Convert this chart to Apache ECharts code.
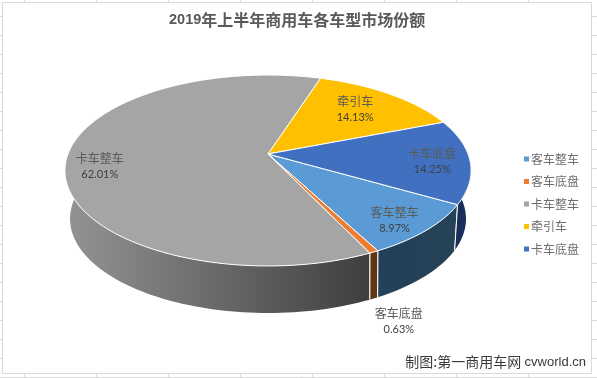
<!DOCTYPE html>
<html>
<head>
<meta charset="utf-8">
<style>
  html, body { margin: 0; padding: 0; background: #fff; }
  #chart { width: 597px; height: 378px; }
</style>
<script src="https://cdn.jsdelivr.net/npm/echarts@6/dist/echarts.min.js"></script>
</head>
<body>
<div id="chart"></div>
<script>
const titleYear = "2019";
const titleText = "年上半年商用车各车型市场份额";
const creditCn = "制图:第一商用车网";
const creditEn = "cvworld.cn";
const categories = ["客车整车", "客车底盘", "卡车整车", "牵引车", "卡车底盘"];
const shares = [8.97, 0.63, 62.01, 14.13, 14.25];

const topColors = ["#5b9bd5", "#ed7d31", "#a5a5a5", "#ffc000", "#4170c0"];
// side wall colours, left to right. yellow never shows its wall
const wallColors = [
  ["#23405a", "#264256"],
  ["#633814", "#5e3413"],
  ["#949494", "#3e3e3e"],
  null,
  ["#182c55", "#1c3160"],
];
// label spot on the disc: radius fraction, then a pixel nudge
const labelSpots = [
  [0.82, 0, 5],
  [1, 25, 23],
  [0.83, -1, 7],
  [0.7, -1, -1],
  [0.82, -1, 2],
];

const firstAngle = 120; // degrees clockwise from 12 o'clock
const visibleWall = [80, 280]; // the part of the rim facing the viewer

const total = shares.reduce((a, b) => a + b, 0);
let running = firstAngle;
const sliceRanges = shares.map((v) => {
  const from = running;
  running += (v / total) * 360;
  return [from, running];
});

// excel's 3d pie is a perspective view, the apex is not the ellipse centre
function topPoint(deg, r) {
  const t = (deg * Math.PI) / 180;
  const u = Math.sin(t) * r;
  const v = -Math.cos(t) * r;
  const w = 1 - 0.1728 * v;
  return [268 + (200 * u) / w, (66 * v + 154) / w];
}
function bottomPoint(deg) {
  const t = (deg * Math.PI) / 180;
  const u = Math.sin(t);
  const v = -Math.cos(t);
  const w = 1 - 0.2 * v;
  return [268 + (194 * u) / w, (50.4 * v + 200) / w];
}
function rim(from, to, fn) {
  const pts = [];
  const n = Math.max(2, Math.ceil((to - from) / 1.5));
  for (let i = 0; i <= n; i++) pts.push(fn(from + ((to - from) * i) / n));
  return pts;
}

function seam(deg) {
  const a = topPoint(deg, 1);
  const b = bottomPoint(deg);
  return {
    type: "line",
    shape: { x1: a[0], y1: a[1], x2: b[0], y2: b[1] },
    style: { stroke: "#fff", lineWidth: 1 },
  };
}

function wallParts(index) {
  if (!wallColors[index]) return [];
  const parts = [];
  // slices can run past 360, so test the range shifted too
  [0, 360].forEach((shift) => {
    const from = Math.max(sliceRanges[index][0], visibleWall[0] + shift);
    const to = Math.min(sliceRanges[index][1], visibleWall[1] + shift);
    if (to <= from) return;
    const a = rim(from, to, (d) => topPoint(d, 1));
    const b = rim(from, to, bottomPoint).reverse();
    const xs = a.concat(b).map((p) => p[0]);
    parts.push({
      type: "polygon",
      shape: { points: a.concat(b) },
      style: {
        fill: {
          type: "linear",
          global: true,
          x: Math.min.apply(null, xs),
          y: 0,
          x2: Math.max.apply(null, xs),
          y2: 0,
          colorStops: [
            { offset: 0, color: wallColors[index][0] },
            { offset: 1, color: wallColors[index][1] },
          ],
        },
      },
    });
    // white seam only where the slice edge is on the visible wall
    if (from === sliceRanges[index][0]) parts.push(seam(from));
    if (to === sliceRanges[index][1]) parts.push(seam(to));
  });
  return parts;
}

function renderSlice(index) {
  return function () {
    const range = sliceRanges[index];
    const top = [topPoint(0, 0)].concat(rim(range[0], range[1], (d) => topPoint(d, 1)));
    return {
      type: "group",
      children: wallParts(index).concat([
        {
          type: "polygon",
          shape: { points: top },
          style: { fill: topColors[index], stroke: "#fff", lineWidth: 1 },
        },
      ]),
    };
  };
}

function renderLabels(params, api) {
  const index = params.dataIndex;
  const range = sliceRanges[index];
  const spot = labelSpots[index];
  const at = topPoint((range[0] + range[1]) / 2, spot[0]);
  // the tiny slice label sits outside, below the wall
  const y = index === 1 ? bottomPoint((range[0] + range[1]) / 2)[1] + spot[2] : at[1] + spot[2];
  return {
    type: "text",
    x: at[0] + spot[1],
    y: y,
    style: {
      text: "{n|" + categories[index] + "}\n{p|" + api.value(0).toFixed(2) + "%}",
      align: "center",
      verticalAlign: "middle",
      rich: {
        n: { fontFamily: "Noto Sans CJK SC", fontSize: 12, lineHeight: 16, fill: "#5a5a5a", align: "center" },
        p: { fontFamily: "Lato", fontSize: 11, lineHeight: 16, fill: "#404040", align: "center" },
      },
    },
  };
}

// worksheet gridlines peeking out around the chart box
const sheetLines = [];
function sheetLine(x1, y1, x2, y2) {
  sheetLines.push({
    type: "line",
    silent: true,
    shape: { x1, y1, x2, y2 },
    style: { stroke: "#d9d9d9", lineWidth: 1 },
  });
}
for (let x = 24.5; x < 597; x += 72) {
  sheetLine(x, 0, x, 3);
  sheetLine(x, 374, x, 378);
}
for (let y = 16.5; y < 374; y += 19) {
  sheetLine(0, y, 3, y);
  sheetLine(592, y, 597, y);
}
sheetLine(0, 377.5, 597, 377.5);

const chart = echarts.init(document.getElementById("chart"));
chart.setOption({
  animation: false,
  backgroundColor: "#fff",
  title: {
    text: "{y|" + titleYear + "}{c|" + titleText + "}",
    left: 169,
    top: 12,
    textStyle: {
      rich: {
        y: { fontFamily: "Liberation Sans", fontSize: 14.5, fontWeight: "bold", color: "#595959" },
        c: { fontFamily: "Noto Sans CJK SC", fontSize: 16, fontWeight: "bold", color: "#595959" },
      },
    },
    padding: 0,
  },
  legend: {
    orient: "vertical",
    left: 519,
    top: 148,
    data: categories,
    icon: "rect",
    itemWidth: 5,
    itemHeight: 5,
    itemGap: 10.5,
    textStyle: { fontFamily: "Noto Sans CJK SC", fontSize: 12, color: "#6e6e6e", padding: [0, 0, 0, -3] },
  },
  graphic: sheetLines.concat([
    {
      type: "rect",
      silent: true,
      shape: { x: 2.5, y: 2.5, width: 589, height: 371 },
      style: { fill: "none", stroke: "#d9d9d9", lineWidth: 1 },
    },
    {
      type: "text",
      silent: true,
      x: 586,
      y: 362,
      style: {
        text: "{a|" + creditCn + "} {b|" + creditEn + "}",
        align: "right",
        verticalAlign: "middle",
        rich: {
          a: { fontFamily: "Noto Sans CJK SC", fontSize: 14, fill: "#3a3a3a" },
          b: { fontFamily: "Liberation Sans", fontSize: 13, fill: "#3a3a3a" },
        },
      },
    },
  ]),
  series: categories
    .map((name, i) => ({
      type: "custom",
      name: name,
      coordinateSystem: "none",
      itemStyle: { color: topColors[i] },
      renderItem: renderSlice(i),
      data: [[shares[i]]],
      silent: true,
    }))
    .concat([
      {
        type: "custom",
        name: "labels",
        coordinateSystem: "none",
        renderItem: renderLabels,
        data: shares.map((v) => [v]),
        silent: true,
        z: 5,
      },
    ]),
});
</script>
</body>
</html>
